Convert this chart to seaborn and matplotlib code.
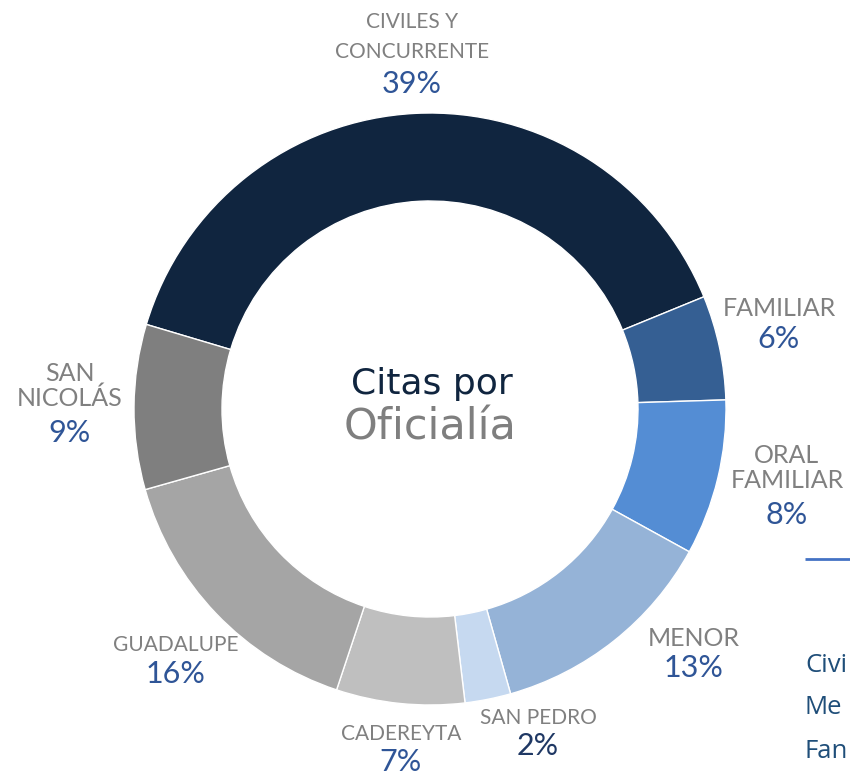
import matplotlib
matplotlib.use("Agg")
import matplotlib.pyplot as plt
import seaborn as sns

# ---- data ----
categories = ["CIVILES Y\nCONCURRENTE", "FAMILIAR", "ORAL\nFAMILIAR", "MENOR",
              "SAN PEDRO", "CADEREYTA", "GUADALUPE", "SAN\nNICOLÁS"]
values = [39.2, 5.7, 8.5, 12.6, 2.5, 7.0, 15.5, 9.0]
pct_labels = ["39%", "6%", "8%", "13%", "2%", "7%", "16%", "9%"]
slice_colors = ["#10253F", "#355F93", "#548DD4", "#95B3D7",
                "#C6D9F0", "#BFBFBF", "#A5A5A5", "#7F7F7F"]
legend_fragments = ["Civi", "Me", "Fan"]

sns.set_theme(style="white")
plt.rcParams["font.family"] = ["Lato", "DejaVu Sans"]

W, H = 850, 775
fig = plt.figure(figsize=(W / 100, H / 100), dpi=100)
ax = fig.add_axes([0, 0, 1, 1])

def Y(y):
    return H - y

ax.pie(values, colors=sns.color_palette(slice_colors), startangle=163.4,
       counterclock=False, radius=296, center=(430, Y(409)),
       wedgeprops=dict(width=88, edgecolor="white", linewidth=1))
ax.set_xlim(0, W)
ax.set_ylim(0, H)
ax.set_aspect("equal")
ax.set_axis_off()

gray = "#808080"
blue = "#2F5597"

# label layout: (x, y_name, y_pct, condensed)
layout = [
    (412, 37, 84, True),
    (779, 308, 339, False),
    (787, 468, 515, False),
    (694, 638, 668, False),
    (538, 718, 746, True),
    (401, 734, 762, True),
    (176, 645, 674, True),
    (70, 386, 433, False),
]
for i, (x, yn, yp, cond) in enumerate(layout):
    if cond:
        ax.text(x, Y(yn), categories[i], ha="center", va="center", color=gray,
                fontsize=15, linespacing=1.6)
    else:
        ax.text(x, Y(yn), categories[i], ha="center", va="center", color=gray,
                fontsize=18, linespacing=1.1)
    pc = "#1F3864" if categories[i] == "SAN PEDRO" else blue
    ax.text(x, Y(yp), pct_labels[i], ha="center", va="center", color=pc,
            fontsize=22)

# center title
ax.text(432, Y(384), "Citas por", ha="center", va="center", color="#10253F",
        fontsize=26, family=["DejaVu Sans"])
ax.text(430, Y(427), "Oficialía", ha="center", va="center", color="#7F7F7F",
        fontsize=31, family=["DejaVu Sans"])

# cut-off legend on right edge
ax.plot([805, 850], [Y(559), Y(559)], color="#4472C4", linewidth=2,
        solid_capstyle="butt", clip_on=False)
for txt, yy in zip(legend_fragments, [665, 708, 752]):
    ax.text(805, Y(yy), txt, ha="left", va="center", color="#1F4E79",
            fontsize=18.5, family=["Open Sans", "DejaVu Sans"])

fig.savefig("out.png", dpi=100)
